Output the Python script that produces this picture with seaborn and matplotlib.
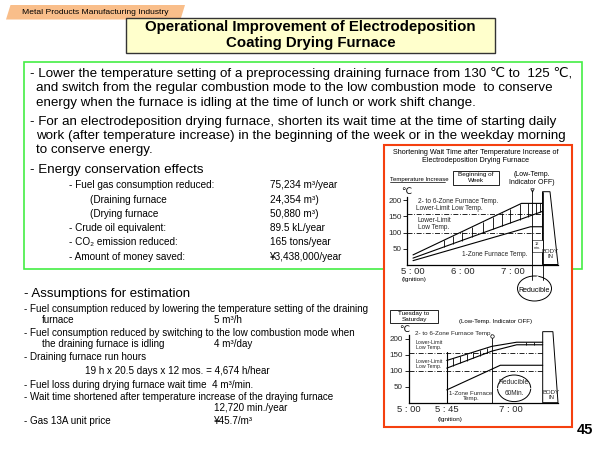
import numpy as np
import matplotlib
matplotlib.use("Agg")
import matplotlib.pyplot as plt
from matplotlib.patches import Rectangle, Polygon, Ellipse
import seaborn as sns

sns.set_style("white")
plt.rcParams["font.family"] = ["Liberation Sans", "DejaVu Sans"]

# ---- slide text ----
industry_tag = "Metal Products Manufacturing Industry"
title_lines = ["Operational Improvement of Electrodeposition", "Coating Drying Furnace"]

summary_lines = [
    "- Lower the temperature setting of a preprocessing draining furnace from 130 \u2103 to  125 \u2103,",
    "and switch from the regular combustion mode to the low combustion mode  to conserve",
    "energy when the furnace is idling at the time of lunch or work shift change.",
    "- For an electrodeposition drying furnace, shorten its wait time at the time of starting daily",
    "work (after temperature increase) in the beginning of the week or in the weekday morning",
    "to conserve energy.",
]

effects_title = "- Energy conservation effects"
effects_labels = [
    "- Fuel gas consumption reduced:",
    "(Draining furnace",
    "(Drying furnace",
    "- Crude oil equivalent:",
    "- CO\u2082 emission reduced:",
    "- Amount of money saved:",
]
effects_values = [
    "75,234 m\u00b3/year",
    "24,354 m\u00b3)",
    "50,880 m\u00b3)",
    "89.5 kL/year",
    "165 tons/year",
    "\u00a53,438,000/year",
]

assume_title = "- Assumptions for estimation"
assume_lines = [
    "- Fuel consumption reduced by lowering the temperature setting of the draining",
    "furnace",
    "- Fuel consumption reduced by switching to the low combustion mode when",
    "the draining furnace is idling",
    "- Draining furnace run hours",
    "19 h x 20.5 days x 12 mos. = 4,674 h/hear",
    "- Fuel loss during drying furnace wait time  4 m\u00b3/min.",
    "- Wait time shortened after temperature increase of the draying furnace",
    "",
    "- Gas 13A unit price",
]
assume_values = ["", "5 m\u00b3/h", "", "4 m\u00b3/day", "", "", "", "", "12,720 min./year", "\u00a545.7/m\u00b3"]

# ---- chart 1: beginning of week (hours, deg C) ----
wk_top_h = [5.0, 7.17, 7.59]
wk_top_t = [30, 191, 191]
wk_low_h = [5.0, 7.59]
wk_low_t = [20, 166]
wk_zone1_h = [5.0, 7.35, 7.59]
wk_zone1_t = [12, 118, 118]
wk_hatch_h = [5.62, 5.8, 5.97, 6.18, 6.39, 6.6, 6.77, 6.94, 7.13, 7.3, 7.45, 7.53]
wk_limits = [158, 100]
wk_indicator = 7.38
wk_body = 7.59

# ---- chart 2: Tuesday to Saturday ----
wd_top_h = [5.75, 6.63, 7.12, 7.63]
wd_top_t = [132, 176, 189, 189]
wd_low_h = [5.75, 6.63, 7.12, 7.63]
wd_low_t = [108, 161, 181, 181]
wd_zone1_h = [5.75, 6.8, 7.63]
wd_zone1_t = [40, 117, 117]
wd_hatch_h = [5.88, 6.01, 6.14, 6.27, 6.4, 6.53, 7.3, 7.45]
wd_limits = [155, 100]
wd_ignition = 5.75
wd_indicator = 6.63
wd_body = 7.63

temp_ticks = [50, 100, 150, 200]

fig = plt.figure(figsize=(6, 4.5), dpi=100)
bg = fig.add_axes([0, 0, 1, 1])
bg.set_xlim(0, 600)
bg.set_ylim(450, 0)
bg.axis("off")


def T(x, y, s, size, **kw):
    kw.setdefault("va", "center")
    kw.setdefault("ha", "left")
    bg.text(x, y, s, fontsize=size, color="black", **kw)


# header
bg.add_patch(Polygon([(6, 19.5), (10.5, 5), (185, 5), (180.5, 19.5)], closed=True,
                     fc="#F9BE8A", ec="none"))
T(22, 13, industry_tag, 6.1)
bg.add_patch(Rectangle((127.2, 19.5), 369, 34.4, fc="#444444", ec="none"))
bg.add_patch(Rectangle((126, 18.3), 369, 34.4, fc="#FFFFCC", ec="#333333", lw=1.0))
T(310.5, 27, title_lines[0], 10.8, ha="center", fontweight="bold")
T(310.5, 43.5, title_lines[1], 10.8, ha="center", fontweight="bold")

# green box
bg.add_patch(Rectangle((24, 62), 558, 207, fc="none", ec="#44EE44", lw=1.2))
summary_y = [74, 88.5, 103, 121.5, 136, 150.5]
for s, y in zip(summary_lines, summary_y):
    T(30 if s.startswith("-") else 36, y, s, 9.6)
T(30, 170, effects_title, 9.6)
for i, (lab, val) in enumerate(zip(effects_labels, effects_values)):
    y = 185.5 + i * 14.2
    T(69 if lab.startswith("-") else 90, y, lab, 7.2)
    T(270, y, val, 7.2)

# assumptions
T(24, 294, assume_title, 9.5)
assume_y = [308.5, 320, 333, 344, 357.5, 371, 384.5, 397.5, 408, 420.5]
for s, v, y in zip(assume_lines, assume_values, assume_y):
    if s:
        x = 24 if s.startswith("-") else (85 if s.startswith("19") else 42)
        T(x, y, s, 7.1)
    if v:
        T(214, y, v, 7.1)
T(585, 430, "45", 10.5, ha="center", fontweight="bold")

# red box
bg.add_patch(Rectangle((383.5, 145), 188, 282, fc="white", ec="#F5400F", lw=1.5))
T(476, 152.5, "Shortening Wait Time after Temperature Increase of", 5.2, ha="center")
T(476, 160.5, "Electrodeposition Drying Furnace", 5.2, ha="center")
T(390, 179, "Temperature Increase", 4.3)
bg.plot([390, 445], [182.3, 182.3], color="black", lw=0.5)
bg.add_patch(Rectangle((453, 170.7), 45.7, 14.3, fc="white", ec="black", lw=0.6))
T(476, 174.3, "Beginning of", 4.6, ha="center")
T(476, 181, "Week", 4.6, ha="center")
T(532, 174.5, "(Low-Temp.", 5, ha="center")
T(532, 182.5, "Indicator OFF)", 5, ha="center")
T(406, 191, "\u2103", 6.5, ha="center")
T(414, 280, "(Ignition)", 4.6, ha="center")
bg.add_patch(Ellipse((534.5, 288.5), 34, 25, fc="none", ec="black", lw=0.7))
T(534.5, 290, "Reducible", 5, ha="center")
bg.annotate("", xy=(532.5, 277.3), xytext=(542.5, 277.3),
            arrowprops=dict(arrowstyle="<->", lw=0.5, mutation_scale=3))

bg.add_patch(Rectangle((390.3, 310), 47.7, 13.3, fc="white", ec="black", lw=0.6))
T(414, 313.3, "Tuesday to", 4.6, ha="center")
T(414, 319.8, "Saturday", 4.6, ha="center")
T(496, 321.7, "(Low-Temp. Indicator OFF)", 4.4, ha="center")
T(404, 329.3, "\u2103", 6.5, ha="center")
T(450, 419, "(Ignition)", 4.6, ha="center")


def chart_axes(left, right, top, bottom, xlim):
    ax = fig.add_axes([left / 600, 1 - bottom / 450, (right - left) / 600, (bottom - top) / 450])
    ax.patch.set_alpha(0)
    ax.set_xlim(*xlim)
    ax.set_ylim(0, 240)
    for side in ["top", "right"]:
        ax.spines[side].set_visible(False)
    for side in ["left", "bottom"]:
        ax.spines[side].set_color("black")
        ax.spines[side].set_linewidth(0.9)
    ax.spines["left"].set_bounds(0, 212)
    ax.set_yticks(temp_ticks)
    ax.set_yticklabels([str(t) for t in temp_ticks])
    ax.tick_params(axis="y", direction="out", length=3, width=0.7, labelsize=5.8, pad=1, left=True)
    ax.tick_params(axis="x", length=0, labelsize=6.8, pad=2)
    ax.set_xlabel("")
    ax.set_ylabel("")
    return ax


def band(ax, top_h, top_t, low_h, low_t, hatch_h):
    kw = dict(color="black", lw=0.8, estimator=None, sort=False, ax=ax)
    sns.lineplot(x=top_h, y=top_t, **kw)
    sns.lineplot(x=low_h, y=low_t, **kw)
    ax.vlines(hatch_h, np.interp(hatch_h, low_h, low_t), np.interp(hatch_h, top_h, top_t),
              color="black", lw=0.6)


# chart 1
ax1 = chart_axes(407, 558, 187.7, 264.5, (4.88, 7.9))
band(ax1, wk_top_h, wk_top_t, wk_low_h, wk_low_t, wk_hatch_h)
sns.lineplot(x=wk_zone1_h, y=wk_zone1_t, color="black", lw=0.8, estimator=None, sort=False, ax=ax1)
ax1.hlines(wk_limits, 4.88, wk_body, color="black", lw=0.6, linestyles=[(0, (6, 2, 1, 2))])
ax1.plot([wk_indicator, wk_indicator], [-48, 234], color="black", lw=0.6, clip_on=False)
ax1.plot([wk_indicator], [233], marker="v", ms=2.5, mfc="none", mec="black", mew=0.5, clip_on=False)
ax1.plot([wk_body, wk_body], [-48, 228], color="black", lw=0.6, clip_on=False)
ax1.add_patch(Polygon([(wk_body, 227.5), (7.74, 227.5), (7.9, 0), (wk_body, 0)], closed=True,
                      fc="none", ec="black", lw=0.7, clip_on=False))
ax1.add_patch(Rectangle((wk_indicator, 40), wk_body - wk_indicator, 36, fc="white", ec="black", lw=0.4))
ax1.text((wk_indicator + wk_body) / 2, 58, "12\nmin.", fontsize=2.8, ha="center", va="center", linespacing=0.9)
ax1.text(7.745, 32, "BODY\nIN", fontsize=4.3, ha="center", va="center", linespacing=1.0)
ax1.text(5.1, 198, "2- to 6-Zone Furnace Temp.", fontsize=4.7, va="center")
ax1.annotate("", xy=(7.0, 187), xytext=(6.78, 199),
             arrowprops=dict(arrowstyle="->", lw=0.5, mutation_scale=4, connectionstyle="arc3,rad=-0.3"))
ax1.text(5.05, 176, "Lower-Limit Low Temp.", fontsize=4.7, va="center")
ax1.text(5.09, 128, "Lower-Limit\nLow Temp.", fontsize=4.7, va="center", linespacing=1.0)
ax1.text(5.98, 30, "1-Zone Furnace Temp.", fontsize=4.7, va="center")
ax1.annotate("", xy=(6.88, 92), xytext=(6.88, 45),
             arrowprops=dict(arrowstyle="->", lw=0.5, mutation_scale=4))
ax1.set_xticks([5.0, 6.0, 7.0])
ax1.set_xticklabels(["5 : 00", "6 : 00", "7 : 00"])

# chart 2
ax2 = chart_axes(408.5, 558, 325.9, 402.7, (5.0, 7.93))
band(ax2, wd_top_h, wd_top_t, wd_low_h, wd_low_t, wd_hatch_h)
sns.lineplot(x=wd_zone1_h, y=wd_zone1_t, color="black", lw=0.8, estimator=None, sort=False, ax=ax2)
ax2.hlines(wd_limits, 5.0, wd_body, color="black", lw=0.6, linestyles=[(0, (6, 2, 1, 2))])
ax2.plot([wd_ignition, wd_ignition], [0, 160], color="black", lw=0.8)
ax2.plot([wd_indicator, wd_indicator], [0, 204], color="black", lw=0.6, clip_on=False)
ax2.plot([wd_indicator], [207], marker="o", ms=2.5, mfc="white", mec="black", mew=0.5, clip_on=False)
ax2.add_patch(Polygon([(wd_body, 222), (7.83, 222), (7.93, 0), (wd_body, 0)], closed=True,
                      fc="none", ec="black", lw=0.7, clip_on=False))
ax2.add_patch(Ellipse((7.07, 45), 0.65, 83, fc="none", ec="black", lw=0.7))
ax2.annotate("", xy=(wd_body, 45), xytext=(wd_indicator, 45),
             arrowprops=dict(arrowstyle="->", lw=0.6, mutation_scale=4))
ax2.text(7.07, 63, "Reducible", fontsize=4.9, ha="center", va="center")
ax2.text(7.07, 28, "60Min.", fontsize=4.7, ha="center", va="center")
ax2.text(7.8, 23, "BODY\nIN", fontsize=4.3, ha="center", va="center", linespacing=1.0)
ax2.text(5.13, 215, "2- to 6-Zone Furnace Temp.", fontsize=4.5, va="center")
ax2.annotate("", xy=(6.37, 172), xytext=(6.37, 206),
             arrowprops=dict(arrowstyle="->", lw=0.5, mutation_scale=4))
ax2.text(5.14, 180, "Lower-Limit\nLow Temp.", fontsize=3.8, va="center", linespacing=1.0)
ax2.text(5.14, 122, "Lower-Limit\nLow Temp.", fontsize=3.8, va="center", linespacing=1.0)
ax2.text(6.22, 21, "1-Zone Furnace\nTemp.", fontsize=4.4, ha="center", va="center", linespacing=1.0)
ax2.annotate("", xy=(6.3, 74), xytext=(6.3, 40),
             arrowprops=dict(arrowstyle="->", lw=0.5, mutation_scale=4))
ax2.set_xticks([5.0, 5.75, 7.0])
ax2.set_xticklabels(["5 : 00", "5 : 45", "7 : 00"])

fig.savefig("out.png", dpi=100)
